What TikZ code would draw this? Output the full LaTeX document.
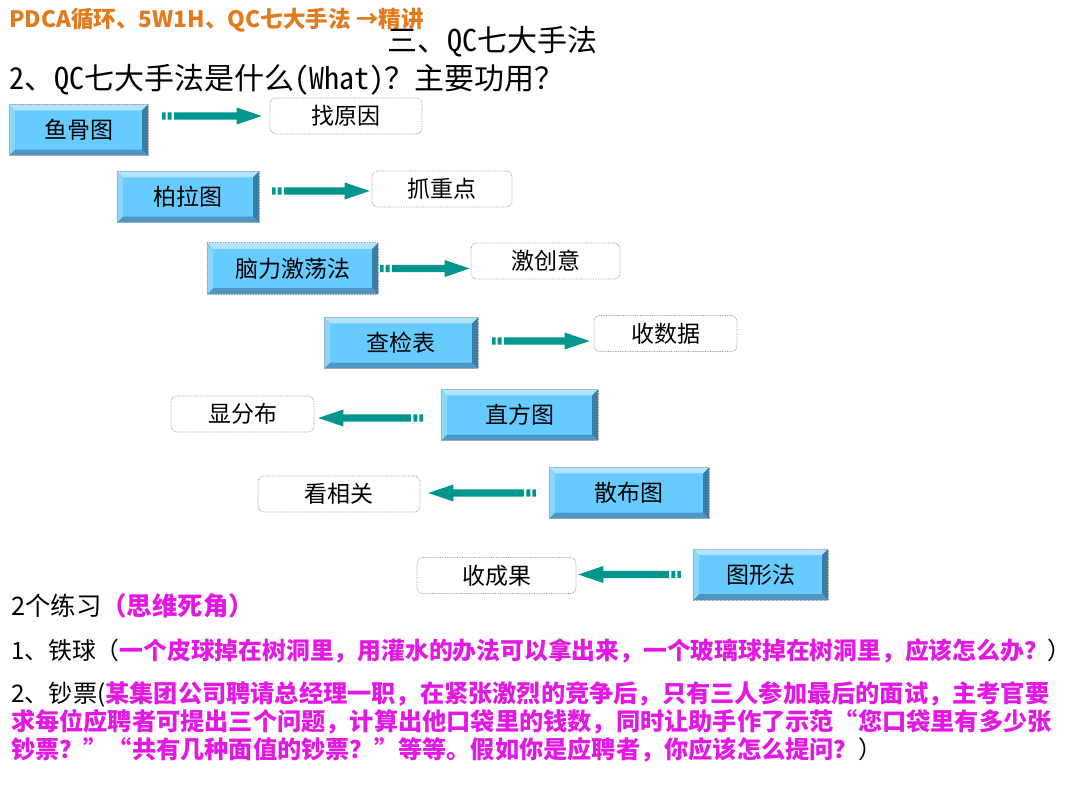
\documentclass[tikz,border=0pt]{standalone}
\usepackage{fontspec}
\setmainfont{Noto Sans CJK SC}
\newfontfamily\qfw[RawFeature=+fwid]{Noto Sans CJK SC}
\newfontfamily\hw[RawFeature=+hwid]{Noto Sans CJK SC}
\usetikzlibrary{calc}
\definecolor{orangeT}{RGB}{226,122,30}
\definecolor{pinkT}{RGB}{228,24,228}
\definecolor{arrowcol}{RGB}{0,150,142}
\definecolor{face}{RGB}{102,204,255}
\definecolor{bevtop}{RGB}{178,228,255}
\definecolor{bevleft}{RGB}{140,214,250}
\definecolor{bevright}{RGB}{60,125,165}
\definecolor{bevbot}{RGB}{80,150,195}
\tikzset{
  qcbox/.style={fill=face, inner sep=0pt, minimum height=51pt, font=\fontsize{23}{25}\selectfont},
  ansbox/.style={draw=gray!85, densely dotted, line width=0.7pt, rounded corners=6pt, minimum height=36pt, inner sep=0pt, font=\fontsize{23}{25}\selectfont},
  txt/.style={anchor=west, inner sep=0pt, font=\fontsize{24.2}{26}\selectfont}
}
\newcommand\pink[1]{{\color{pinkT}\bfseries #1}}
\newcommand\bevel[1]{%
  \fill[bevtop] (#1.north west) -- (#1.north east) -- ([shift={(-6pt,-6pt)}]#1.north east) -- ([shift={(6pt,-6pt)}]#1.north west) -- cycle;
  \fill[bevbot] (#1.south west) -- (#1.south east) -- ([shift={(-6pt,6pt)}]#1.south east) -- ([shift={(6pt,6pt)}]#1.south west) -- cycle;
  \fill[bevleft] (#1.north west) -- (#1.south west) -- ([shift={(6pt,6pt)}]#1.south west) -- ([shift={(6pt,-6pt)}]#1.north west) -- cycle;
  \fill[bevright] (#1.north east) -- (#1.south east) -- ([shift={(-6pt,6pt)}]#1.south east) -- ([shift={(-6pt,-6pt)}]#1.north east) -- cycle;
  \draw[gray!70, densely dotted, line width=0.6pt] (#1.north west) rectangle (#1.south east);
}
\newcommand\qcarrow[2]{%
  \fill[arrowcol] let \p1=#1, \p2=#2, \n1={\x2-\x1}, \n2={sign(\n1)} in
    ({\x1},{\y1-3.6pt}) rectangle ({\x1+\n2*3.5pt},{\y1+3.6pt})
    ({\x1+\n2*5.5pt},{\y1-3.6pt}) rectangle ({\x1+\n2*9.5pt},{\y1+3.6pt})
    ({\x1+\n2*12pt},{\y1-3.6pt}) -- ({\x2-\n2*25pt},{\y1-3.6pt}) -- ({\x2-\n2*25pt},{\y1-8.5pt})
    -- (\x2,\y1) -- ({\x2-\n2*25pt},{\y1+8.5pt}) -- ({\x2-\n2*25pt},{\y1+3.6pt}) -- ({\x1+\n2*12pt},{\y1+3.6pt}) -- cycle;
}
\begin{document}
\begin{tikzpicture}[x=1pt, y=-1pt]
\useasboundingbox[fill=white] (0,0) rectangle (1080,810);

% titles
\node[anchor=west, inner sep=0pt, text=orangeT, font=\bfseries\fontsize{22.6}{25}\selectfont] (t0) at (9,20) {PDCA循环、5W1H、QC七大手法 →精讲};
\node[anchor=west, inner sep=0pt, font=\fontsize{30}{32}\selectfont] (t1) at (387,42) {三、{\hw QC}七大手法};
\node[anchor=west, inner sep=0pt, font=\fontsize{30}{32}\selectfont] (t2) at (9,80) {{\hw 2}、{\hw QC}七大手法是什么{\hw (What)}？主要功用？};

% blue boxes
\node[qcbox, minimum width=139pt] (b1) at (78.5,130) {鱼骨图};
\node[qcbox, minimum width=142pt] (b2) at (188,197) {柏拉图};
\node[qcbox, minimum width=171pt] (b3) at (292.5,268.5) {脑力激荡法};
\node[qcbox, minimum width=154pt] (b4) at (401,343) {查检表};
\node[qcbox, minimum width=157pt] (b5) at (519.5,415) {直方图};
\node[qcbox, minimum width=160pt] (b6) at (629,493) {散布图};
\node[qcbox, minimum width=135pt] (b7) at (760.5,574.5) {图形法};
\foreach \b in {b1,b2,b3,b4,b5,b6,b7} {\bevel{\b}}

% answer boxes
\node[ansbox, minimum width=152pt] (d1) at (346,116) {找原因};
\node[ansbox, minimum width=140pt] (d2) at (442,189) {抓重点};
\node[ansbox, minimum width=149pt] (d3) at (545.5,261) {激创意};
\node[ansbox, minimum width=143pt] (d4) at (665.5,333.5) {收数据};
\node[ansbox, minimum width=143pt] (d5) at (242.5,414) {显分布};
\node[ansbox, minimum width=162pt] (d6) at (339,494) {看相关};
\node[ansbox, minimum width=159pt] (d7) at (496.5,575.5) {收成果};

% arrows
\qcarrow{($(b1.east |- d1.west)+(14pt,0)$)}{($(d1.west)+(-8pt,0)$)}
\qcarrow{($(b2.east |- d2.west)+(13pt,-2pt)$)}{($(d2.west)+(-2pt,0)$)}
\qcarrow{($(b3.east)+(2pt,0)$)}{($(d3.west)+(-1pt,0)$)}
\qcarrow{($(b4.east)+(14pt,2pt)$)}{($(d4.west)+(-4pt,0)$)}
\qcarrow{($(b5.west)+(-18pt,-3pt)$)}{($(d5.east)+(4pt,0)$)}
\qcarrow{($(b6.west)+(-13pt,0)$)}{($(d6.east)+(8pt,0)$)}
\qcarrow{($(b7.west)+(-12pt,0)$)}{($(d7.east)+(2pt,0)$)}

% exercises
\node[txt, font=\fontsize{25.4}{27}\selectfont] (e0) at (11,606) {2个练习\pink{（思维死角）}};
\node[txt, font=\fontsize{23.8}{26}\selectfont] (e1) at (11,651) {1、铁球（\pink{一个皮球掉在树洞里，用灌水的办法可以拿出来，一个玻璃球掉在树洞里，应该怎么办？}）};
\node[txt] (e2) at (11,694) {2、钞票(\pink{某集团公司聘请总经理一职，在紧张激烈的竞争后，只有三人参加最后的面试，主考官要}};
\node[txt] (e3) at (11,722) {\pink{求每位应聘者可提出三个问题，计算出他口袋里的钱数，同时让助手作了示范{\qfw “}您口袋里有多少张}};
\node[txt] (e4) at (11,750) {\pink{钞票？{\qfw ”}{\qfw “}共有几种面值的钞票？{\qfw ”}等等。假如你是应聘者，你应该怎么提问？}）};
\end{tikzpicture}
\end{document}
